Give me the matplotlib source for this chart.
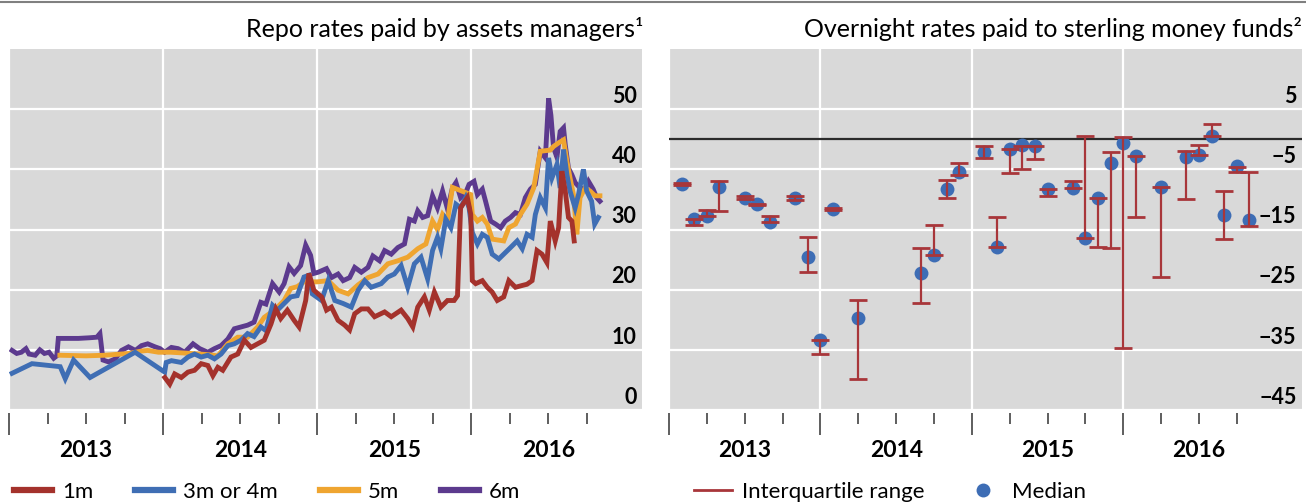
import matplotlib
matplotlib.use("Agg")
import matplotlib.pyplot as plt
from matplotlib.lines import Line2D
import numpy as np

plt.rcParams['font.family'] = ['Lato', 'DejaVu Sans']

# ---------------- Left panel data (decimal years, %) ----------------
t_6m = [2013.02, 2013.05, 2013.08, 2013.11, 2013.13, 2013.17, 2013.20, 2013.23, 2013.26, 2013.29,
        2013.31, 2013.32, 2013.45, 2013.52, 2013.57, 2013.59, 2013.61, 2013.645, 2013.69, 2013.73,
        2013.775, 2013.82, 2013.86, 2013.90, 2013.947, 2013.98, 2014.01, 2014.054, 2014.097, 2014.14,
        2014.194, 2014.237, 2014.29, 2014.333, 2014.376, 2014.42, 2014.462, 2014.505, 2014.548, 2014.59,
        2014.634, 2014.667, 2014.71, 2014.753, 2014.785, 2014.817, 2014.85, 2014.892, 2014.925, 2014.957,
        2014.978, 2015.006, 2015.06, 2015.092, 2015.135, 2015.168, 2015.21, 2015.243, 2015.286, 2015.329,
        2015.361, 2015.404, 2015.437, 2015.48, 2015.523, 2015.566, 2015.598, 2015.63, 2015.652, 2015.684,
        2015.716, 2015.748, 2015.78, 2015.813, 2015.845, 2015.877, 2015.90, 2015.93, 2015.963, 2015.985,
        2016.017, 2016.039, 2016.071, 2016.092, 2016.125, 2016.157, 2016.19, 2016.22, 2016.254, 2016.286,
        2016.318, 2016.35, 2016.383, 2016.415, 2016.447, 2016.48, 2016.501, 2016.516, 2016.533, 2016.555,
        2016.576, 2016.598, 2016.609, 2016.63, 2016.652, 2016.673, 2016.705, 2016.738, 2016.76, 2016.79,
        2016.813, 2016.834]
v_6m = [9.9, 9.4, 9.6, 10.2, 9.3, 9.1, 10.0, 9.4, 9.6, 8.6,
        9.0, 11.9, 11.9, 12.0, 12.1, 12.7, 8.3, 8.0, 8.5, 9.9,
        10.5, 9.9, 10.7, 11.0, 10.5, 10.2, 9.6, 10.4, 10.2, 9.6,
        11.0, 10.2, 9.6, 10.2, 10.7, 11.8, 13.5, 13.8, 14.1, 14.6,
        17.9, 17.6, 21.0, 19.6, 21.0, 23.8, 22.7, 24.0, 27.4, 25.7,
        22.7, 22.9, 23.5, 22.0, 22.6, 21.5, 22.0, 23.7, 22.9, 23.7,
        25.6, 24.8, 26.5, 25.9, 27.0, 27.6, 31.7, 31.4, 33.1, 32.0,
        32.3, 35.6, 33.6, 36.4, 33.4, 36.9, 37.8, 35.3, 36.1, 37.5,
        38.0, 35.8, 36.7, 34.7, 31.4, 30.9, 30.3, 31.4, 32.0, 32.8,
        32.5, 35.3, 36.7, 37.5, 43.0, 41.9, 51.8, 49.0, 43.6, 42.0,
        46.3, 46.9, 44.1, 40.2, 39.1, 37.8, 36.9, 36.7, 38.0, 36.7,
        35.3, 34.7]

t_5m = [2013.33, 2013.50, 2013.62, 2013.78, 2013.86, 2013.90, 2013.97, 2014.05, 2014.18, 2014.29,
        2014.355, 2014.42, 2014.484, 2014.548, 2014.613, 2014.656, 2014.70, 2014.742, 2014.785, 2014.828,
        2014.87, 2014.914, 2014.957, 2015.0, 2015.071, 2015.135, 2015.20, 2015.265, 2015.329, 2015.394,
        2015.458, 2015.523, 2015.587, 2015.652, 2015.705, 2015.748, 2015.78, 2015.813, 2015.845, 2015.877,
        2015.996, 2016.006, 2016.039, 2016.071, 2016.103, 2016.135, 2016.21, 2016.243, 2016.286, 2016.318,
        2016.361, 2016.404, 2016.447, 2016.512, 2016.533, 2016.566, 2016.598, 2016.62, 2016.64, 2016.662,
        2016.673, 2016.684, 2016.705, 2016.738, 2016.77, 2016.802, 2016.834]
v_5m = [9.1, 9.0, 9.1, 9.4, 9.8, 9.9, 9.6, 9.6, 9.4, 9.2,
        9.0, 11.0, 12.1, 12.1, 13.8, 15.4, 16.2, 17.1, 18.2, 20.2,
        20.5, 21.3, 21.3, 21.3, 21.5, 19.9, 19.3, 20.8, 22.0, 22.6,
        24.3, 24.8, 25.4, 26.8, 27.6, 31.4, 30.0, 32.5, 31.4, 37.0,
        35.8, 32.5, 31.4, 32.0, 30.9, 28.4, 28.1, 30.3, 30.9, 32.5,
        34.2, 36.9, 43.0, 43.2, 43.8, 44.4, 44.9, 41.3, 38.6, 35.8,
        32.5, 29.2, 35.3, 36.9, 36.4, 35.6, 35.6]

t_3m = [2013.02, 2013.149, 2013.332, 2013.365, 2013.419, 2013.526, 2013.818, 2014.01, 2014.02, 2014.054,
        2014.118, 2014.161, 2014.204, 2014.247, 2014.29, 2014.333, 2014.376, 2014.42, 2014.462, 2014.505,
        2014.548, 2014.59, 2014.634, 2014.667, 2014.71, 2014.742, 2014.785, 2014.828, 2014.87, 2014.914,
        2014.946, 2014.968, 2015.028, 2015.071, 2015.114, 2015.168, 2015.221, 2015.265, 2015.308, 2015.35,
        2015.415, 2015.458, 2015.50, 2015.544, 2015.587, 2015.63, 2015.673, 2015.716, 2015.748, 2015.78,
        2015.802, 2015.834, 2015.867, 2015.90, 2015.93, 2015.963, 2015.985, 2016.006, 2016.039, 2016.071,
        2016.103, 2016.135, 2016.178, 2016.21, 2016.254, 2016.297, 2016.33, 2016.361, 2016.394, 2016.415,
        2016.447, 2016.48, 2016.501, 2016.523, 2016.555, 2016.576, 2016.598, 2016.62, 2016.64, 2016.673,
        2016.695, 2016.727, 2016.748, 2016.78, 2016.80, 2016.824]
v_3m = [6.1, 7.7, 7.2, 5.2, 8.3, 5.4, 9.6, 6.3, 7.9, 8.2,
        7.9, 8.8, 9.3, 8.8, 9.1, 8.5, 9.3, 10.7, 11.0, 11.6,
        12.7, 12.2, 13.8, 13.2, 17.4, 16.6, 17.7, 18.8, 19.0, 22.1,
        22.4, 19.3, 18.2, 21.5, 18.2, 17.7, 17.1, 19.9, 21.5, 20.4,
        21.0, 22.1, 22.6, 24.0, 20.4, 24.3, 25.4, 21.8, 26.5, 28.7,
        26.8, 31.7, 30.3, 34.2, 33.6, 35.3, 33.6, 29.5, 27.6, 29.2,
        28.7, 25.9, 25.1, 25.9, 27.0, 28.1, 26.8, 29.2, 28.7, 32.5,
        35.3, 33.6, 41.9, 38.6, 40.8, 36.9, 43.3, 39.1, 36.4, 33.6,
        35.8, 40.0, 36.4, 34.7, 30.9, 32.0]

t_1m = [2014.011, 2014.043, 2014.075, 2014.118, 2014.161, 2014.204, 2014.247, 2014.29, 2014.323, 2014.355,
        2014.387, 2014.44, 2014.484, 2014.527, 2014.57, 2014.613, 2014.656, 2014.70, 2014.731, 2014.763,
        2014.806, 2014.85, 2014.882, 2014.925, 2014.946, 2014.978, 2015.028, 2015.06, 2015.092, 2015.135,
        2015.178, 2015.21, 2015.243, 2015.286, 2015.329, 2015.372, 2015.437, 2015.48, 2015.544, 2015.587,
        2015.62, 2015.652, 2015.695, 2015.727, 2015.76, 2015.802, 2015.845, 2015.888, 2015.91, 2015.93,
        2015.953, 2015.974, 2015.996, 2016.006, 2016.028, 2016.071, 2016.103, 2016.135, 2016.168, 2016.21,
        2016.243, 2016.286, 2016.33, 2016.361, 2016.394, 2016.426, 2016.458, 2016.49, 2016.512, 2016.544,
        2016.566, 2016.587, 2016.609, 2016.63, 2016.652, 2016.667]
v_1m = [5.4, 4.3, 6.0, 5.4, 6.3, 6.6, 7.7, 7.4, 5.7, 7.1,
        6.6, 8.8, 9.3, 11.6, 10.4, 11.0, 11.6, 14.3, 16.8, 15.2,
        16.6, 14.9, 13.8, 18.2, 22.7, 19.9, 18.8, 16.6, 17.1, 14.9,
        14.1, 13.3, 16.0, 16.8, 16.8, 15.5, 16.3, 15.5, 16.6, 15.2,
        13.8, 17.1, 18.8, 16.6, 19.6, 17.1, 18.2, 18.2, 19.0, 33.6,
        34.5, 35.3, 32.5, 21.5, 21.0, 21.5, 20.4, 19.6, 18.2, 18.8,
        21.5, 20.4, 20.7, 20.9, 21.5, 26.5, 25.9, 24.5, 31.4, 28.1,
        30.3, 39.7, 36.4, 32.0, 31.4, 28.1]

series_names = ['1m', '3m or 4m', '5m', '6m']
left_yticks = [0, 10, 20, 30, 40, 50]

# ---------------- Right panel data (month ends, %) ----------------
t_mmf = [2013.083, 2013.167, 2013.250, 2013.333, 2013.500, 2013.583, 2013.667, 2013.833, 2013.917, 2014.000,
         2014.083, 2014.250, 2014.667, 2014.750, 2014.833, 2014.917, 2015.083, 2015.167, 2015.250, 2015.333,
         2015.417, 2015.500, 2015.667, 2015.750, 2015.833, 2015.917, 2016.000, 2016.083, 2016.250, 2016.417,
         2016.500, 2016.583, 2016.667, 2016.750, 2016.833]
median = [-7.4, -13.2, -12.7, -8.0, -9.7, -10.8, -13.8, -9.8, -19.5, -33.3,
          -11.6, -29.7, -22.2, -19.3, -8.3, -5.5, -2.1, -17.9, -1.6, -0.9,
          -1.2, -8.3, -8.1, -16.4, -9.8, -4.0, -0.6, -2.8, -7.9, -2.9,
          -2.7, 0.6, -12.6, -4.4, -13.4]
q1 = [-7.6, -14.2, -12.7, -12.0, -9.9, -11.0, -13.8, -10.1, -22.0, -35.7,
      -11.7, -39.8, -27.2, -19.3, -9.7, -6.0, -3.1, -17.9, -5.55, -5.0,
      -3.3, -9.5, -8.1, -16.4, -17.9, -18.1, -34.7, -13.0, -22.9, -10.0,
      -2.7, 0.6, -16.6, -5.4, -14.4]
q3 = [-7.3, -13.2, -11.7, -7.0, -9.5, -10.7, -12.8, -9.5, -16.2, -33.3,
      -11.5, -26.8, -18.1, -14.3, -6.7, -4.0, -1.1, -13.0, -1.6, -1.1,
      -1.2, -8.3, -7.0, 0.5, -9.8, -2.1, 0.4, -2.8, -7.9, -2.0,
      -0.9, 2.5, -8.6, -4.6, -5.4]
right_yticks = [-45, -35, -25, -15, -5, 5]

years = [2013, 2014, 2015, 2016]

# ---------------- Styling ----------------
RED = '#A4322C'
BLUE = '#3F6EB4'
ORANGE = '#EFA530'
PURPLE = '#5C3A8E'
BG = '#D9D9D9'
DOT = '#3D6DB5'
ERR = '#A8363A'
W, H = 1306, 504

fig = plt.figure(figsize=(W / 100, H / 100), dpi=100)
ax1 = fig.add_axes([9 / W, 94 / H, 633 / W, 361 / H])
ax2 = fig.add_axes([669 / W, 94 / H, 633 / W, 361 / H])

fig.add_artist(Line2D([0, 1], [1 - 1.5 / H, 1 - 1.5 / H], color='#808080', lw=1.5,
                      transform=fig.transFigure))


def style_axis(ax, xlim, ylim, yticks, ylabels):
    ax.set_facecolor(BG)
    ax.set_xlim(*xlim)
    ax.set_ylim(*ylim)
    for s in ax.spines.values():
        s.set_visible(False)
    ax.spines['bottom'].set_position(('outward', 2))
    ax.set_xticks(years)
    ax.set_xticks([y + q for y in years for q in (0.25, 0.5, 0.75)], minor=True)
    ax.tick_params(axis='x', which='major', direction='out', length=16, width=1.1,
                   color='#333333', labelbottom=False)
    ax.tick_params(axis='x', which='minor', direction='out', length=8, width=1.1,
                   color='#333333', labelbottom=False)
    ax.set_yticks(yticks)
    ax.tick_params(axis='y', length=0, labelleft=False, labelright=False)
    ax.grid(axis='y', color='white', lw=1.6)
    ax.grid(axis='x', which='major', color='white', lw=1.6)
    ax.set_axisbelow(True)
    for v, lab in zip(yticks, ylabels):
        ax.annotate(lab, xy=(1, v), xycoords=('axes fraction', 'data'), xytext=(-4, 4.5),
                    textcoords='offset points', ha='right', va='baseline',
                    fontsize=15.5, fontweight='bold', color='black')
    for y in years:
        ax.annotate(str(y), xy=(y + 0.5, 0), xycoords=('data', 'axes fraction'),
                    xytext=(0, -34), textcoords='offset points', ha='center',
                    va='baseline', fontsize=16.5, fontweight='bold', color='black')


# Left panel
ax1.plot(t_6m, v_6m, color=PURPLE, lw=3.5, solid_joinstyle='miter', zorder=2)
ax1.plot(t_5m, v_5m, color=ORANGE, lw=3.5, solid_joinstyle='miter', zorder=3)
ax1.plot(t_3m, v_3m, color=BLUE, lw=3.5, solid_joinstyle='miter', zorder=4)
ax1.plot(t_1m, v_1m, color=RED, lw=3.5, solid_joinstyle='miter', zorder=5)
style_axis(ax1, (2013.013, 2017.107), (0, 60), left_yticks, [str(v) for v in left_yticks])

# Right panel
ax2.axhline(0, color='#2b2b2b', lw=1.6, zorder=1.5)
ax2.plot(t_mmf, median, 'o', color=DOT, markersize=10, markeredgewidth=0, zorder=3)
mid = [(a + b) / 2 for a, b in zip(q1, q3)]
half = [(b - a) / 2 for a, b in zip(q1, q3)]
ax2.errorbar(t_mmf, mid, yerr=half, fmt='none', ecolor=ERR, elinewidth=1.6,
             capsize=6.5, capthick=2.0, zorder=4)
style_axis(ax2, (2013.0, 2017.18), (-45, 15), right_yticks,
           [str(v).replace('-', '\u2212') for v in right_yticks])

# Titles
fig.text(643 / W, 1 - 37 / H, 'Repo rates paid by assets managers\u00b9', ha='right',
         va='baseline', fontsize=18)
fig.text(1302 / W, 1 - 37 / H, 'Overnight rates paid to sterling money funds\u00b2', ha='right',
         va='baseline', fontsize=18)

# Legends
h_left = [Line2D([], [], color=c, lw=4.5) for c in (RED, BLUE, ORANGE, PURPLE)]
fig.legend(h_left, series_names, loc='center left', bbox_to_anchor=(14 / W, 1 - 492 / H),
           ncol=4, frameon=False, fontsize=16, handlelength=1.7, handletextpad=0.45,
           columnspacing=1.9, borderpad=0, borderaxespad=0)
h_right = [Line2D([], [], color=ERR, lw=2),
           Line2D([], [], color=DOT, marker='o', markersize=10, lw=0, markeredgewidth=0)]
fig.legend(h_right, ['Interquartile range', 'Median'], loc='center left',
           bbox_to_anchor=(694 / W, 1 - 492 / H), ncol=2, frameon=False, fontsize=16,
           handlelength=1.7, handletextpad=0.45, columnspacing=1.8, borderpad=0,
           borderaxespad=0)

fig.savefig('out.png', dpi=100)
